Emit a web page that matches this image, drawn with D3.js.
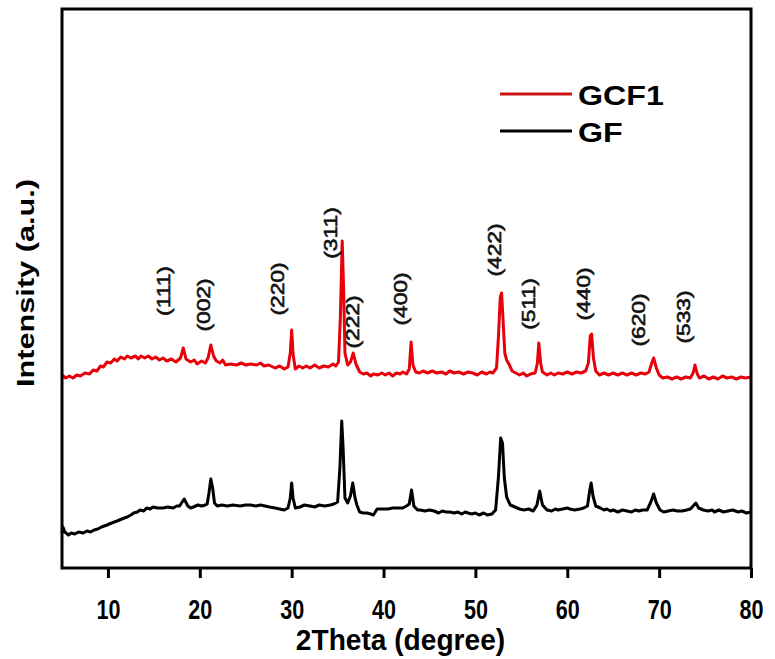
<!DOCTYPE html>
<html>
<head>
<meta charset="utf-8">
<script src="https://cdn.jsdelivr.net/npm/d3@7"></script>
<style>
  body { margin: 0; background: #fff; }
  text { font-family: "Liberation Sans", Arial, sans-serif; }
</style>
</head>
<body>
<svg id="chart" width="775" height="659"></svg>
<script>
// XRD patterns (2theta in degree, intensity in a.u.)
const gcf1Theta = [
  5.0, 5.4, 5.8, 6.2, 6.6, 7.0, 7.5, 8.0, 8.4, 8.8,
  9.2, 9.5, 9.9, 10.3, 10.7, 11.0, 11.4, 11.8, 12.1, 12.5,
  13.0, 13.3, 13.6, 14.0, 14.4, 14.8, 15.2, 15.6, 16.0, 16.4,
  16.9, 17.4, 17.9, 18.2, 18.5, 19.0, 19.4, 19.7, 20.2, 20.6,
  20.9, 21.2, 21.5, 21.8, 22.2, 22.5, 22.8, 23.3, 24.0, 24.5,
  25.0, 25.5, 26.2, 26.6, 27.0, 27.5, 28.2, 28.7, 29.2, 29.6,
  29.85, 30.0, 30.15, 30.4, 30.8, 31.2, 31.6, 32.0, 32.5, 33.0,
  33.5, 34.0, 34.5, 34.8, 35.1, 35.3, 35.5, 35.65, 35.8, 36.1,
  36.4, 36.7, 37.0, 37.4, 37.8, 38.2, 38.6, 38.9, 39.4, 39.8,
  40.2, 40.6, 41.0, 41.4, 41.8, 42.1, 42.5, 42.8, 43.0, 43.2,
  43.5, 43.9, 44.3, 44.8, 45.3, 45.8, 46.3, 46.8, 47.2, 47.7,
  48.2, 48.7, 49.2, 49.7, 50.2, 50.7, 51.2, 51.6, 51.9, 52.3,
  52.5, 52.7, 52.85, 53.0, 53.2, 53.4, 53.7, 54.0, 54.4, 54.8,
  55.2, 55.6, 56.0, 56.5, 56.75, 56.9, 57.1, 57.3, 57.8, 58.2,
  58.6, 59.0, 59.5, 60.0, 60.5, 61.0, 61.5, 62.0, 62.3, 62.5,
  62.65, 62.85, 63.1, 63.5, 64.0, 64.5, 65.0, 65.5, 66.0, 66.5,
  67.0, 67.5, 68.0, 68.5, 68.9, 69.2, 69.4, 69.7, 70.0, 70.4,
  70.9, 71.4, 71.9, 72.4, 72.9, 73.4, 73.7, 73.9, 74.15, 74.4,
  74.9, 75.4, 75.9, 76.4, 76.9, 77.4, 77.9, 78.4, 78.9, 79.4,
  80.0];
const gcf1Intensity = [
  193, 190, 192, 190, 193, 192, 195, 194, 198, 197,
  202, 201, 206, 205, 209, 207, 211, 209, 212, 210,
  212, 209, 212, 210, 212, 209, 211, 208, 210, 207,
  209, 206, 210, 220, 209, 206, 208, 204, 207, 205,
  210, 223, 212, 207, 205, 208, 203, 204, 203, 205,
  203, 204, 203, 205, 202, 203, 200, 202, 199, 201,
  215, 238, 214, 199, 202, 200, 202, 200, 203, 200,
  202, 201, 204, 202, 206, 250, 327, 280, 215, 203,
  206, 215, 204, 196, 194, 195, 192, 194, 193, 195,
  193, 195, 192, 195, 194, 196, 194, 199, 226, 203,
  196, 195, 197, 195, 197, 195, 196, 194, 197, 195,
  196, 194, 196, 195, 193, 196, 194, 196, 195, 200,
  230, 270, 275, 250, 215, 208, 203, 197, 195, 193,
  195, 192, 194, 195, 205, 225, 205, 196, 193, 195,
  193, 195, 194, 196, 194, 196, 195, 197, 205, 232,
  234, 210, 197, 193, 195, 193, 195, 193, 195, 193,
  195, 193, 195, 194, 196, 205, 210, 200, 193, 190,
  191, 189, 191, 189, 191, 190, 195, 203, 194, 190,
  192, 189, 191, 189, 192, 190, 191, 189, 191, 190,
  191];

const gfTheta = [
  5.0, 5.1, 5.3, 5.7, 6.0, 6.4, 6.8, 7.3, 7.7, 8.1,
  8.5, 8.9, 9.3, 9.9, 10.4, 11.0, 11.5, 12.1, 12.5, 12.8,
  13.2, 13.5, 13.9, 14.2, 14.6, 14.9, 15.4, 16.0, 16.5, 17.1,
  17.5, 17.8, 18.3, 18.7, 19.0, 19.3, 19.8, 20.2, 20.6, 20.8,
  21.0, 21.2, 21.4, 21.6, 21.9, 22.4, 23.0, 23.6, 24.4, 25.0,
  25.5, 26.1, 26.6, 27.1, 27.6, 28.2, 28.7, 29.2, 29.6, 29.85,
  30.0, 30.15, 30.4, 30.9, 31.4, 32.0, 32.5, 33.0, 33.6, 34.2,
  34.6, 35.0, 35.25, 35.45, 35.6, 35.8, 36.1, 36.4, 36.65, 36.9,
  37.1, 37.4, 37.8, 38.2, 38.6, 38.9, 39.3, 39.8, 40.5, 41.0,
  41.5, 42.1, 42.5, 42.8, 43.05, 43.3, 43.7, 44.0, 44.5, 45.0,
  45.5, 46.0, 46.4, 46.8, 47.2, 47.7, 48.1, 48.5, 48.9, 49.2,
  49.6, 50.0, 50.4, 50.9, 51.3, 51.8, 52.2, 52.5, 52.75, 52.95,
  53.15, 53.4, 53.8, 54.3, 54.8, 55.3, 55.8, 56.3, 56.7, 57.0,
  57.3, 57.8, 58.3, 58.7, 59.0, 59.5, 60.0, 60.3, 60.8, 61.4,
  61.8, 62.2, 62.45, 62.6, 62.8, 63.1, 63.6, 64.0, 64.3, 64.7,
  65.0, 65.5, 66.0, 66.5, 67.0, 67.4, 67.8, 68.2, 68.7, 69.1,
  69.4, 69.7, 70.1, 70.5, 71.0, 71.5, 72.0, 72.5, 73.0, 73.4,
  73.7, 74.0, 74.3, 74.8, 75.3, 75.8, 76.0, 76.5, 77.0, 77.5,
  78.0, 78.6, 79.0, 79.5, 80.0];
const gfIntensity = [
  35, 41, 36, 33, 35, 34, 36, 35, 37, 36,
  38, 39, 41, 43, 45, 47, 49, 51, 53, 55,
  56, 58, 57, 60, 59, 61, 60, 60, 61, 60,
  62, 62, 69, 62, 60, 61, 63, 62, 63, 64,
  75, 89, 80, 65, 62, 63, 62, 63, 62, 63,
  63, 62, 63, 62, 61, 60, 59, 58, 60, 70,
  85, 70, 60, 61, 63, 62, 61, 63, 62, 63,
  64, 66, 100, 147, 120, 70, 65, 72, 85, 70,
  63, 56, 55, 55, 54, 53, 59, 59, 59, 60,
  60, 60, 62, 64, 78, 62, 58, 58, 57, 58,
  57, 55, 57, 56, 56, 55, 56, 54, 56, 55,
  54, 55, 53, 55, 53, 54, 58, 90, 130, 125,
  90, 71, 63, 61, 59, 58, 59, 57, 63, 77,
  63, 58, 57, 59, 58, 59, 60, 59, 58, 59,
  60, 62, 78, 85, 72, 62, 60, 58, 59, 57,
  58, 56, 58, 57, 56, 58, 57, 58, 58, 66,
  74, 65, 58, 56, 57, 58, 57, 57, 58, 59,
  62, 65, 60, 58, 57, 58, 56, 58, 56, 57,
  58, 56, 57, 55, 56];

const seriesNames = ["GCF1", "GF"];
const seriesColors = ["#e8000a", "#000000"];

// (hkl) labels with the spot where each label sits, in data units
const peakLabels = ["(111)", "(002)", "(220)", "(311)", "(222)", "(400)", "(422)", "(511)", "(440)", "(620)", "(533)"];
const peakLabelTheta = [16.0, 20.35, 28.4, 34.2, 36.6, 41.8, 52.1, 55.7, 61.7, 67.7, 72.6];
const peakLabelIntensity = [277, 263, 279, 335, 246, 269, 318, 264, 274, 248, 251];

const xTicks = [10, 20, 30, 40, 50, 60, 70, 80];

// margin convention
const margin = { top: 9, right: 24, bottom: 91, left: 62 };
const width = 775 - margin.left - margin.right;
const height = 659 - margin.top - margin.bottom;

const svg = d3.select("#chart")
  .append("g")
  .attr("transform", "translate(" + margin.left + "," + margin.top + ")");

const x = d3.scaleLinear().domain([5, 80]).range([0, width]);
const y = d3.scaleLinear().domain([0, height]).range([height, 0]);

const line = d3.line()
  .x(d => x(d[0]))
  .y(d => y(d[1]));

const gcf1 = d3.zip(gcf1Theta, gcf1Intensity);
const gf = d3.zip(gfTheta, gfIntensity);

// the two patterns
[gcf1, gf].forEach((data, i) => {
  svg.append("path")
    .datum(data)
    .attr("fill", "none")
    .attr("stroke", seriesColors[i])
    .attr("stroke-width", 3)
    .attr("stroke-linejoin", "round")
    .attr("d", line);
});

// bottom axis, ticks only
const xAxis = svg.append("g")
  .attr("transform", "translate(0," + height + ")")
  .call(d3.axisBottom(x).tickValues(xTicks).tickSize(10).tickPadding(21).tickFormat(d3.format("d")));
xAxis.select(".domain").remove();
xAxis.selectAll(".tick line").attr("stroke", "#000").attr("stroke-width", 3);
xAxis.selectAll(".tick text")
  .attr("fill", "#000")
  .attr("font-size", 28)
  .attr("font-weight", "bold")
  .attr("font-family", "Liberation Sans, Arial, sans-serif")
  .attr("transform", "scale(0.77,1)");

// frame
svg.append("rect")
  .attr("x", 0).attr("y", 0)
  .attr("width", width).attr("height", height)
  .attr("fill", "none")
  .attr("stroke", "#000")
  .attr("stroke-width", 3);

// peak labels
svg.append("g")
  .selectAll("text")
  .data(peakLabels)
  .enter().append("text")
    .attr("transform", (d, i) => "translate(" + x(peakLabelTheta[i]) + "," + y(peakLabelIntensity[i]) + ") rotate(-90) scale(1.2,1)")
    .attr("text-anchor", "middle")
    .attr("dominant-baseline", "central")
    .attr("font-size", 19)
    .attr("fill", "#111")
    .attr("stroke", "#111")
    .attr("stroke-width", 0.6)
    .text(d => d);

// legend
const legend = svg.append("g").attr("transform", "translate(438,85)");
seriesNames.forEach((name, i) => {
  const row = legend.append("g").attr("transform", "translate(0," + (i * 37) + ")");
  row.append("line")
    .attr("x1", 0).attr("x2", 72)
    .attr("y1", 0).attr("y2", 0)
    .attr("stroke", i === 0 ? "#cc1418" : "#000")
    .attr("stroke-width", 3);
  row.append("text")
    .attr("transform", "translate(78,11) scale(1.15,1)")
    .attr("font-size", 28)
    .attr("font-weight", "bold")
    .attr("fill", "#000")
    .text(name);
});

// axis titles
svg.append("text")
  .attr("transform", "translate(" + (width / 2 - 6) + "," + (height + 82) + ") scale(0.97,1)")
  .attr("text-anchor", "middle")
  .attr("font-size", 29)
  .attr("font-weight", "bold")
  .text("2Theta (degree)");

svg.append("text")
  .attr("transform", "translate(-28," + (283 - margin.top) + ") rotate(-90) scale(1.28,1)")
  .attr("text-anchor", "middle")
  .attr("font-size", 24)
  .attr("font-weight", "bold")
  .text("Intensity (a.u.)");
</script>
</body>
</html>
